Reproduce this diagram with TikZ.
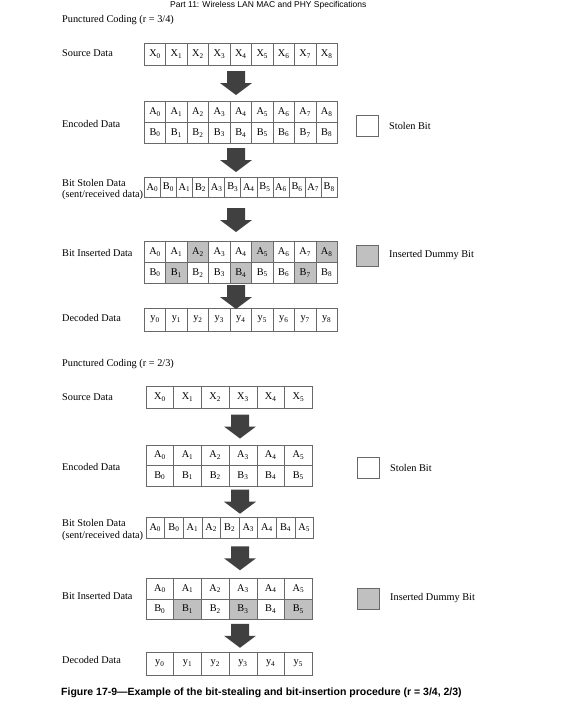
\documentclass[tikz,border=0pt]{standalone}
\usepackage{fontspec}
\setmainfont{Liberation Serif}
\newfontfamily\capfont{Liberation Sans}
\usepackage{tikz}
\definecolor{dummygray}{RGB}{192,192,192}
\definecolor{arrowgray}{RGB}{64,64,64}
\definecolor{rulegray}{RGB}{105,105,105}

\begin{document}
\begin{tikzpicture}[x=1pt,y=-1pt,
    cellbox/.style={draw=rulegray,line width=0.6pt,inner sep=0pt,font=\fontsize{10.3}{12}\selectfont},
    lbl/.style={anchor=west,inner sep=0pt,align=left,font=\fontsize{10.3}{11.5}\selectfont}]
  \useasboundingbox (0,0) rectangle (569,723);
  \node[anchor=base west,inner sep=0pt,font=\capfont\fontsize{8.5}{10}\selectfont] (hdr) at (170,7.5) {Part 11: Wireless LAN MAC and PHY Specifications};

  % --- r = 3/4 ---
  \node[lbl] (title1) at (62,20) {Punctured Coding (r = 3/4)};
  \node[lbl] (srclbl1) at (62,53) {Source Data};
  \node[lbl] (enclbl1) at (62,124) {Encoded Data};
  \node[lbl] (stllbl1) at (62,189.5) {Bit Stolen Data\\(sent/received data)};
  \node[lbl] (inslbl1) at (62,253) {Bit Inserted Data};
  \node[lbl] (declbl1) at (62,318) {Decoded Data};
  \foreach \i in {0,...,8} {
    \node[cellbox,minimum width=21.45,minimum height=22.3] (srcA\i) at ({144.3+21.45*(\i+0.5)},54) {X\textsubscript{\i}};
    \node[cellbox,minimum width=21.45,minimum height=20.8] (encA\i) at ({144.3+21.45*(\i+0.5)},112.1) {A\textsubscript{\i}};
    \node[cellbox,minimum width=21.45,minimum height=20.8] (encB\i) at ({144.3+21.45*(\i+0.5)},132.9) {B\textsubscript{\i}};
    \node[cellbox,minimum width=21.45,minimum height=22.7] (decA\i) at ({144.3+21.45*(\i+0.5)},319.7) {y\textsubscript{\i}};
  }
  \foreach \l/\n [count=\k from 0] in {A/0,B/0,A/1,B/2,A/3,B/3,A/4,B/5,A/6,B/6,A/7,B/8}
    \node[cellbox,minimum width=16.08,minimum height=20.5] (stlA\k) at ({144.3+16.08*(\k+0.5)},187.4) {\l\textsubscript{\n}};
  \foreach \i/\fa/\fb in {0/white/white,1/white/dummygray,2/dummygray/white,3/white/white,4/white/dummygray,5/dummygray/white,6/white/white,7/white/dummygray,8/dummygray/white} {
    \node[cellbox,fill=\fa,minimum width=21.45,minimum height=20.8] (insA\i) at ({144.3+21.45*(\i+0.5)},252.1) {A\textsubscript{\i}};
    \node[cellbox,fill=\fb,minimum width=21.45,minimum height=20.8] (insB\i) at ({144.3+21.45*(\i+0.5)},272.9) {B\textsubscript{\i}};
  }
  \node[cellbox,minimum width=21.5,minimum height=21] (stolen1) at (367.5,125.5) {};
  \node[lbl] (stolentxt1) at (389,125.5) {Stolen Bit};
  \node[cellbox,fill=dummygray,minimum width=21.5,minimum height=21] (dummy1) at (367.5,255.5) {};
  \node[lbl] (dummytxt1) at (389,255.5) {Inserted Dummy Bit};

  % --- r = 2/3 ---
  \node[lbl] (title2) at (62,364) {Punctured Coding (r = 2/3)};
  \node[lbl] (srclbl2) at (62,397) {Source Data};
  \node[lbl] (enclbl2) at (62,467) {Encoded Data};
  \node[lbl] (stllbl2) at (62,530) {Bit Stolen Data\\(sent/received data)};
  \node[lbl] (inslbl2) at (62,596) {Bit Inserted Data};
  \node[lbl] (declbl2) at (62,660) {Decoded Data};
  \foreach \i/\fb in {0/white,1/dummygray,2/white,3/dummygray,4/white,5/dummygray} {
    \node[cellbox,minimum width=27.7,minimum height=22] (srcB\i) at ({146+27.7*(\i+0.5)},397) {X\textsubscript{\i}};
    \node[cellbox,minimum width=27.7,minimum height=20.5] (encC\i) at ({146+27.7*(\i+0.5)},455.25) {A\textsubscript{\i}};
    \node[cellbox,minimum width=27.7,minimum height=20.5] (encD\i) at ({146+27.7*(\i+0.5)},475.75) {B\textsubscript{\i}};
    \node[cellbox,minimum width=27.7,minimum height=20.5] (insC\i) at ({146+27.7*(\i+0.5)},588.55) {A\textsubscript{\i}};
    \node[cellbox,fill=\fb,minimum width=27.7,minimum height=20.5] (insD\i) at ({146+27.7*(\i+0.5)},609.05) {B\textsubscript{\i}};
    \node[cellbox,minimum width=27.7,minimum height=22.7] (decB\i) at ({146+27.7*(\i+0.5)},663.6) {y\textsubscript{\i}};
  }
  \foreach \l/\n [count=\k from 0] in {A/0,B/0,A/1,A/2,B/2,A/3,A/4,B/4,A/5}
    \node[cellbox,minimum width=18.6,minimum height=21] (stlB\k) at ({146+18.6*(\k+0.5)},527.8) {\l\textsubscript{\n}};
  \node[cellbox,minimum width=21.5,minimum height=21] (stolen2) at (368.5,467.5) {};
  \node[lbl] (stolentxt2) at (390,467.5) {Stolen Bit};
  \node[cellbox,fill=dummygray,minimum width=21.5,minimum height=21] (dummy2) at (368.5,598.5) {};
  \node[lbl] (dummytxt2) at (390,598.5) {Inserted Dummy Bit};

  % block arrows between the rows
  \foreach \ax/\ay in {236/83,236/160,236/220,236/297,240/426.5,240/501.7,240/558.3,240/635.8}
    \fill[arrowgray] (\ax-9,\ay-12) -- (\ax+9,\ay-12) -- (\ax+9,\ay) -- (\ax+16,\ay)
      -- (\ax,\ay+12) -- (\ax-16,\ay) -- (\ax-9,\ay) -- cycle;

  \node[anchor=west,inner sep=0pt,font=\capfont\bfseries\fontsize{10.5}{12}\selectfont] (caption) at (61,693) {Figure 17-9—Example of the bit-stealing and bit-insertion procedure (r = 3/4, 2/3)};
\end{tikzpicture}
\end{document}
